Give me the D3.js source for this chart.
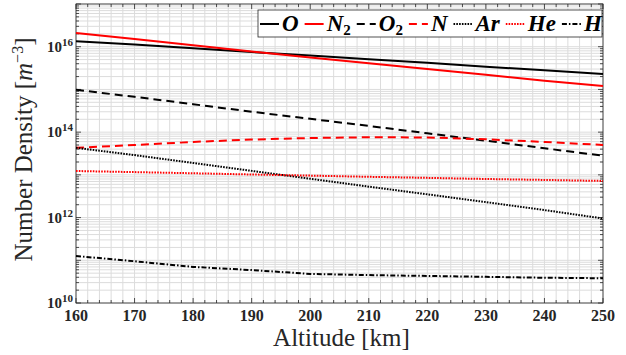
<!DOCTYPE html>
<html>
<head>
<meta charset="utf-8">
<script src="https://cdn.jsdelivr.net/npm/d3@7"></script>
<style>
  body { margin: 0; background: #fff; }
  svg text { font-family: 'Liberation Serif', 'Times New Roman', 'DejaVu Serif', serif; }
</style>
</head>
<body>
<div id="chart-area"></div>
<script>
// altitudes (km) and number densities (m^-3)
var altitude = [160, 170, 180, 190, 200, 210, 220, 230, 240, 250];
var densO  = [1.35e16, 1.12e16, 9.2e15, 7.5e15, 6.2e15, 5.1e15, 4.2e15, 3.4e15, 2.8e15, 2.3e15];
var densN2 = [2.1e16, 1.52e16, 1.08e16, 7.7e15, 5.6e15, 4.1e15, 3.0e15, 2.2e15, 1.6e15, 1.2e15];
var densO2 = [9.8e14, 6.7e14, 4.5e14, 3.0e14, 2.05e14, 1.4e14, 9.4e13, 6.3e13, 4.2e13, 2.8e13];
var densN  = [4.3e13, 5.0e13, 5.9e13, 6.7e13, 7.3e13, 7.6e13, 7.5e13, 6.8e13, 5.9e13, 5.0e13];
var densAr = [4.3e13, 2.9e13, 1.9e13, 1.24e13, 8.1e12, 5.3e12, 3.5e12, 2.3e12, 1.5e12, 9.5e11];
var densHe = [1.23e13, 1.16e13, 1.09e13, 1.02e13, 9.6e12, 9.0e12, 8.5e12, 8.0e12, 7.6e12, 7.2e12];
var densH  = [1.26e11, 9.5e10, 7.0e10, 5.9e10, 4.8e10, 4.5e10, 4.3e10, 4.1e10, 3.9e10, 3.8e10];

var xTicks = [160, 170, 180, 190, 200, 210, 220, 230, 240, 250];
var yTickExp = [10, 12, 14, 16];

var series = [
    {name: "O",  sub: "",  vals: densO,  color: "#000", dash: null},
    {name: "N",  sub: "2", vals: densN2, color: "#f00", dash: null},
    {name: "O",  sub: "2", vals: densO2, color: "#000", dash: "8,5"},
    {name: "N",  sub: "",  vals: densN,  color: "#f00", dash: "8,5"},
    {name: "Ar", sub: "",  vals: densAr, color: "#000", dash: "1.6,1.2"},
    {name: "He", sub: "",  vals: densHe, color: "#f00", dash: "1.6,1.2"},
    {name: "H",  sub: "",  vals: densH,  color: "#000", dash: "5,2,1.5,2"}
];

var W = 626, H = 355;
var margin = {left: 76, right: 23, top: 4, bottom: 52};
var width = W - margin.left - margin.right;
var height = H - margin.top - margin.bottom;
var serif = "'Liberation Serif', 'Times New Roman', 'DejaVu Serif', serif";

var svg = d3.select("#chart-area").append("svg")
    .attr("width", W)
    .attr("height", H)
    .attr("font-family", serif);

var g = svg.append("g")
    .attr("transform", "translate(" + margin.left + ", " + margin.top + ")");

var x = d3.scaleLinear().domain([160, 250]).range([0, width]);
var y = d3.scaleLog().domain([1e10, 1e17]).range([height, 0]);

// grid
var xGrid = d3.range(160, 251, 2);
var yGrid = [];
for (var e = 10; e < 17; e++) {
    for (var m = 1; m < 10; m++) yGrid.push(m * Math.pow(10, e));
}
yGrid.push(1e17);

g.append("g").selectAll("line.xg")
    .data(xGrid).enter().append("line")
    .attr("x1", (d) => x(d)).attr("x2", (d) => x(d))
    .attr("y1", 0).attr("y2", height)
    .attr("stroke", "#dcdcdc").attr("stroke-width", 1);

g.append("g").selectAll("line.yg")
    .data(yGrid).enter().append("line")
    .attr("x1", 0).attr("x2", width)
    .attr("y1", (d) => y(d)).attr("y2", (d) => y(d))
    .attr("stroke", "#dcdcdc").attr("stroke-width", 1);

// ticks (inward, all four sides)
var ticks = g.append("g").attr("stroke", "#262626").attr("stroke-width", 0.8);
xGrid.forEach((d) => {
    var len = (d % 10 === 0) ? 5 : 3;
    ticks.append("line").attr("x1", x(d)).attr("x2", x(d)).attr("y1", height).attr("y2", height - len);
    ticks.append("line").attr("x1", x(d)).attr("x2", x(d)).attr("y1", 0).attr("y2", len);
});
yGrid.forEach((d) => {
    var major = Math.abs(Math.log10(d) - Math.round(Math.log10(d))) < 1e-9;
    var len = major ? 5 : 3;
    ticks.append("line").attr("x1", 0).attr("x2", len).attr("y1", y(d)).attr("y2", y(d));
    ticks.append("line").attr("x1", width).attr("x2", width - len).attr("y1", y(d)).attr("y2", y(d));
});

// box
g.append("rect")
    .attr("x", 0).attr("y", 0)
    .attr("width", width).attr("height", height)
    .attr("fill", "none").attr("stroke", "#262626").attr("stroke-width", 0.8);

// tick labels
g.append("g").selectAll("text")
    .data(xTicks).enter().append("text")
    .attr("x", (d) => x(d))
    .attr("y", height + 18)
    .attr("text-anchor", "middle")
    .attr("font-size", "16px")
    .attr("font-weight", "bold")
    .attr("fill", "#262626")
    .text((d) => d);

var yl = g.append("g").selectAll("text")
    .data(yTickExp).enter().append("text")
    .attr("x", -3)
    .attr("y", (d) => y(Math.pow(10, d)) + 5)
    .attr("text-anchor", "end")
    .attr("font-size", "15px")
    .attr("font-weight", "bold")
    .attr("fill", "#262626");
yl.append("tspan").text("10");
yl.append("tspan").attr("dy", -6).attr("font-size", "11px").text((d) => d);

// lines
var line = d3.line()
    .x((d, i) => x(altitude[i]))
    .y((d) => y(d));

series.forEach((s) => {
    g.append("path")
        .datum(s.vals)
        .attr("d", line)
        .attr("fill", "none")
        .attr("stroke", s.color)
        .attr("stroke-width", 2)
        .attr("stroke-dasharray", s.dash);
});

// axis labels
g.append("text")
    .attr("x", width / 2 + 2)
    .attr("y", height + 43)
    .attr("text-anchor", "middle")
    .attr("font-size", "25px")
    .attr("fill", "#262626")
    .text("Altitude [km]");

var ylab = g.append("text")
    .attr("transform", "translate(-44, " + (height / 2 - 4) + ") rotate(-90)")
    .attr("text-anchor", "middle")
    .attr("font-size", "25px")
    .attr("fill", "#262626");
ylab.append("tspan").text("Number Density [");
ylab.append("tspan").attr("font-style", "italic").text("m");
ylab.append("tspan").attr("dy", -9).attr("font-size", "16px").text("\u22123");
ylab.append("tspan").attr("dy", 9).text("]");

// legend
var legX = 258 - margin.left, legY = 10 - margin.top;
var leg = g.append("g");
var legBox = leg.append("rect")
    .attr("x", legX).attr("y", legY)
    .attr("height", 27)
    .attr("fill", "#fff").attr("stroke", "#262626").attr("stroke-width", 0.8);

var cx = legX + 2;
series.forEach((s) => {
    leg.append("line")
        .attr("x1", cx).attr("x2", cx + 19)
        .attr("y1", legY + 14).attr("y2", legY + 14)
        .attr("stroke", s.color).attr("stroke-width", 2)
        .attr("stroke-dasharray", s.dash);
    cx += 22;
    var t = leg.append("text")
        .attr("x", cx).attr("y", legY + 21)
        .attr("font-size", "23px")
        .attr("font-style", "italic")
        .attr("font-weight", "bold")
        .attr("fill", "#000");
    t.append("tspan").text(s.name);
    if (s.sub) {
        t.append("tspan").attr("dy", 4).attr("font-size", "15px").attr("font-style", "normal").text(s.sub);
    }
    cx += t.node().getComputedTextLength() + 6;
});
legBox.attr("width", W - margin.right - margin.left - legX - 1);
</script>
</body>
</html>
